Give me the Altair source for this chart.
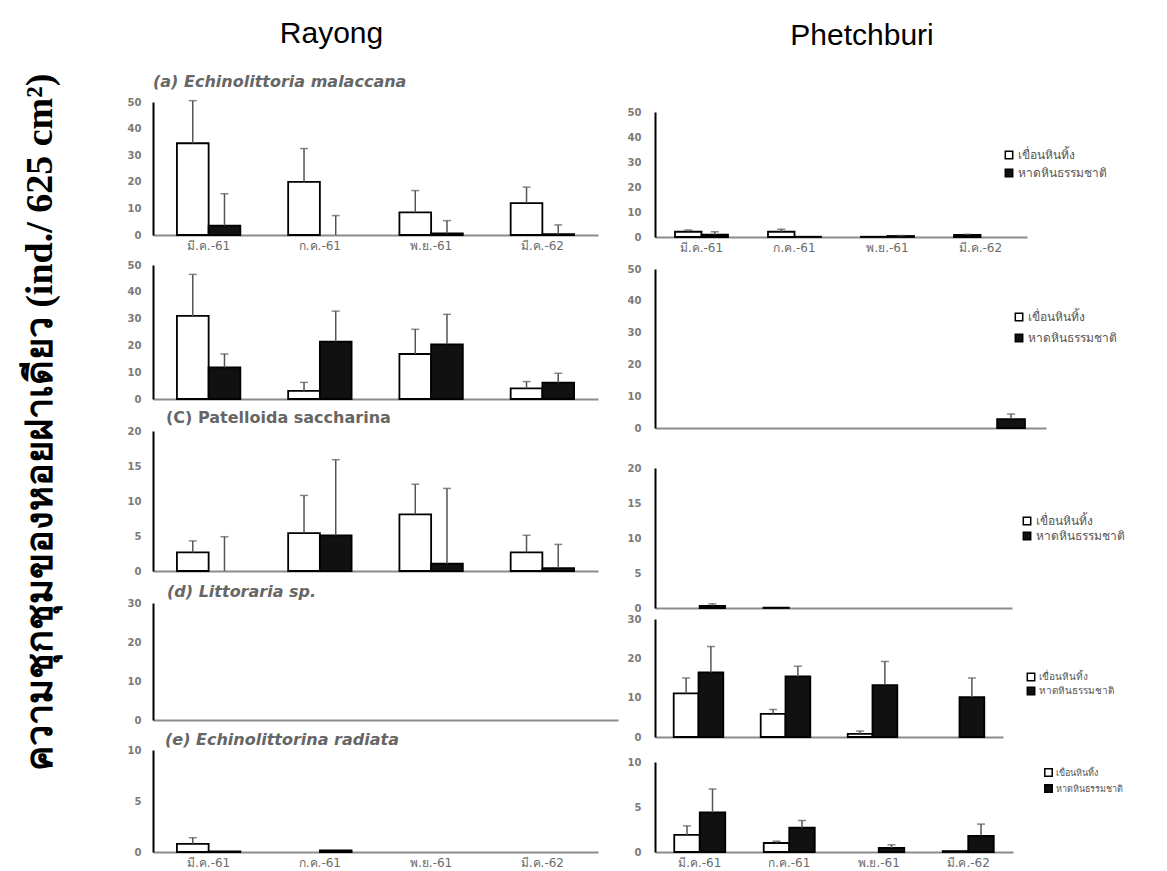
import altair as alt
import pandas as pd

months = ["มี.ค.-61", "ก.ค.-61", "พ.ย.-61", "มี.ค.-62"]
series = ["เขื่อนหินทิ้ง", "หาดหินธรรมชาติ"]

# Rayong
ra_white = [34.5, 20.0, 8.5, 12.0]
ra_white_err = [16.0, 12.5, 8.2, 6.0]
ra_black = [3.5, 0.0, 0.6, 0.3]
ra_black_err = [12.0, 7.3, 4.8, 3.5]

rb_white = [31.0, 3.0, 16.8, 4.0]
rb_white_err = [15.5, 3.2, 9.2, 2.5]
rb_black = [11.8, 21.4, 20.4, 6.1]
rb_black_err = [5.0, 11.4, 11.2, 3.5]

rc_white = [2.65, 5.4, 8.1, 2.65]
rc_white_err = [1.65, 5.4, 4.3, 2.45]
rc_black = [0.0, 5.1, 1.05, 0.4]
rc_black_err = [4.9, 10.8, 10.75, 3.4]

rd_white = [0, 0, 0, 0]
rd_white_err = [0, 0, 0, 0]
rd_black = [0, 0, 0, 0]
rd_black_err = [0, 0, 0, 0]

re_white = [0.8, 0.0, 0.0, 0.0]
re_white_err = [0.6, 0.0, 0.0, 0.0]
re_black = [0.05, 0.15, 0.0, 0.0]
re_black_err = [0.0, 0.0, 0.0, 0.0]

# Phetchburi
pa_white = [2.1, 2.1, 0.1, 0.8]
pa_white_err = [0.7, 1.0, 0.0, 0.3]
pa_black = [0.9, 0.1, 0.4, 0.0]
pa_black_err = [1.2, 0.0, 0.2, 0.0]

pb_white = [0, 0, 0, 0]
pb_white_err = [0, 0, 0, 0]
pb_black = [0, 0, 0, 2.8]
pb_black_err = [0, 0, 0, 1.6]

pc_white = [0, 0.05, 0, 0]
pc_white_err = [0, 0, 0, 0]
pc_black = [0.3, 0, 0, 0]
pc_black_err = [0.3, 0, 0, 0]

pd_white = [11.1, 5.9, 0.8, 0.0]
pd_white_err = [3.9, 1.1, 0.7, 0.0]
pd_black = [16.4, 15.4, 13.2, 10.1]
pd_black_err = [6.6, 2.6, 6.0, 4.9]

pe_white = [1.9, 1.0, 0.0, 0.1]
pe_white_err = [1.0, 0.2, 0.0, 0.0]
pe_black = [4.4, 2.7, 0.45, 1.8]
pe_black_err = [2.6, 0.8, 0.35, 1.3]

titles_left = ["(a) Echinolittoria malaccana", "", "(C) Patelloida saccharina",
               "(d) Littoraria sp.", "(e) Echinolittorina radiata"]
ylabel = "ความชุกชุมของหอยฝาเดียว (ind./ 625 cm²)"

TICK_FONT = "DejaVu Sans"
GRAY = "#6a6a6a"


def make_df(w, we, b, be):
    rows = []
    for i, m in enumerate(months):
        rows.append({"month": m, "site": series[0], "value": w[i], "err": we[i]})
        rows.append({"month": m, "site": series[1], "value": b[i], "err": be[i]})
    df = pd.DataFrame(rows)
    df["top"] = df["value"] + df["err"]
    return df


def panel(df, width, height, ymax, ystep, show_x, title="", italic=True,
          legend=None, ylabpad=12, tdx=0, toff=8):
    xenc = alt.X("month:N", sort=months,
                 scale=alt.Scale(domain=months, paddingInner=0.43, paddingOuter=0.215),
                 axis=alt.Axis(title=None, labels=show_x, ticks=False, domainColor="#8c8c8c",
                               domainWidth=2, labelFont=TICK_FONT, labelFontSize=12,
                               labelColor=GRAY, labelPadding=5, labelAngle=0))
    yscale = alt.Scale(domain=[0, ymax], nice=False, zero=True)
    yaxis = alt.Axis(values=list(range(0, ymax + 1, ystep)), title=None, grid=False,
                     ticks=False, domainColor="black", domainWidth=2,
                     labelFont=TICK_FONT, labelFontSize=10, labelFontWeight="bold",
                     labelColor="#7a7a7a", labelPadding=ylabpad, labelOverlap=False)
    xo = alt.XOffset("site:N", sort=series,
                     scale=alt.Scale(domain=series, paddingInner=0, paddingOuter=0))
    fill = alt.Fill("site:N", sort=series,
                    scale=alt.Scale(domain=series, range=["white", "#111111"]),
                    legend=legend)
    base = alt.Chart(df)
    bars = base.transform_filter("datum.value > 0").mark_bar(
        stroke="black", strokeWidth=1.8).encode(
        x=xenc, xOffset=xo, y=alt.Y("value:Q", scale=yscale, axis=yaxis), fill=fill)
    rules = base.transform_filter("datum.err > 0").mark_rule(
        color="#555555", strokeWidth=1.5).encode(
        x=xenc, xOffset=xo, y=alt.Y("value:Q", scale=yscale, axis=yaxis), y2="top:Q")
    caps = base.transform_filter("datum.err > 0").mark_tick(
        color="#555555", thickness=1.5, size=8).encode(
        x=xenc, xOffset=xo, y=alt.Y("top:Q", scale=yscale, axis=yaxis))
    ch = alt.layer(bars, rules, caps).properties(width=width, height=height)
    if title:
        ch = ch.properties(title=alt.TitleParams(
            title, anchor="start", frame="group", font=TICK_FONT, fontSize=16,
            fontWeight="bold", fontStyle="italic" if italic else "normal",
            color="#666666", offset=toff, dx=tdx))
    return ch


def spacer(w, h):
    return alt.Chart(pd.DataFrame({"v": [0]})).mark_point(opacity=0).encode(
        x=alt.X("v:Q", axis=None), y=alt.Y("v:Q", axis=None)).properties(width=w, height=h)


def legend(x, y, fs, rp):
    return alt.Legend(title=None, orient="none", legendX=x, legendY=y, symbolType="square",
                      symbolSize=55, symbolStrokeColor="black", symbolStrokeWidth=1.5,
                      labelFontSize=fs, labelColor="#555555", rowPadding=rp, labelOffset=3)


LW = 445
left = alt.vconcat(
    panel(make_df(ra_white, ra_white_err, ra_black, ra_black_err), LW, 133, 50, 10, True,
          titles_left[0], toff=7),
    spacer(LW, 30),
    panel(make_df(rb_white, rb_white_err, rb_black, rb_black_err), LW, 134, 50, 10, False),
    spacer(LW, 32),
    panel(make_df(rc_white, rc_white_err, rc_black, rc_black_err), LW, 140, 20, 5, False,
          titles_left[2], italic=False, tdx=13, toff=0),
    spacer(LW, 32),
    panel(make_df(rd_white, rd_white_err, rd_black, rd_black_err), 465, 117, 30, 10, False,
          titles_left[3], tdx=14, toff=-2),
    spacer(LW, 30),
    panel(make_df(re_white, re_white_err, re_black, re_black_err), LW, 102, 10, 5, True,
          titles_left[4], tdx=12, toff=-3),
    spacing=0, bounds="flush",
).resolve_scale(x="independent", y="independent", fill="independent",
                xOffset="independent").properties(
    title=alt.TitleParams("Rayong", font="Liberation Sans", fontSize=30, fontWeight="normal",
                          color="black", offset=25, anchor="middle", dx=-41))

RW = 375
right = alt.vconcat(
    spacer(RW, 10),
    panel(make_df(pa_white, pa_white_err, pa_black, pa_black_err), 372, 125, 50, 10, True,
          legend=legend(348, 37, 12, 4), ylabpad=14),
    spacer(RW, 32),
    panel(make_df(pb_white, pb_white_err, pb_black, pb_black_err), 391, 159, 50, 10, False,
          legend=legend(358, 42, 12, 7), ylabpad=14),
    spacer(RW, 40),
    panel(make_df(pc_white, pc_white_err, pc_black, pc_black_err), 357, 140, 20, 5, False,
          legend=legend(366, 47, 12, 1), ylabpad=14),
    spacer(RW, 11),
    panel(make_df(pd_white, pd_white_err, pd_black, pd_black_err), 348, 118, 30, 10, False,
          legend=legend(371, 53, 10, 0), ylabpad=14),
    spacer(RW, 25),
    panel(make_df(pe_white, pe_white_err, pe_black, pe_black_err), 358, 90, 10, 5, True,
          legend=legend(389, 6, 9, 1), ylabpad=14),
    spacing=0, bounds="flush",
).resolve_scale(x="independent", y="independent", fill="independent",
                xOffset="independent").resolve_legend(fill="independent").properties(
    title=alt.TitleParams("Phetchburi", font="Liberation Sans", fontSize=30, fontWeight="normal",
                          color="black", offset=51, anchor="middle", dx=-14))

chart = alt.hconcat(left, right, spacing=9).properties(
    title=alt.TitleParams(ylabel, orient="left", font="Liberation Serif", fontSize=38,
                          fontWeight="bold", color="black", offset=67, anchor="middle", dx=21),
    padding={"left": 22, "top": 19, "right": 5, "bottom": 5},
    background="white",
).configure_view(stroke="transparent", strokeWidth=0)

chart.save("out.html", embed_options={"renderer": "svg", "actions": False})
